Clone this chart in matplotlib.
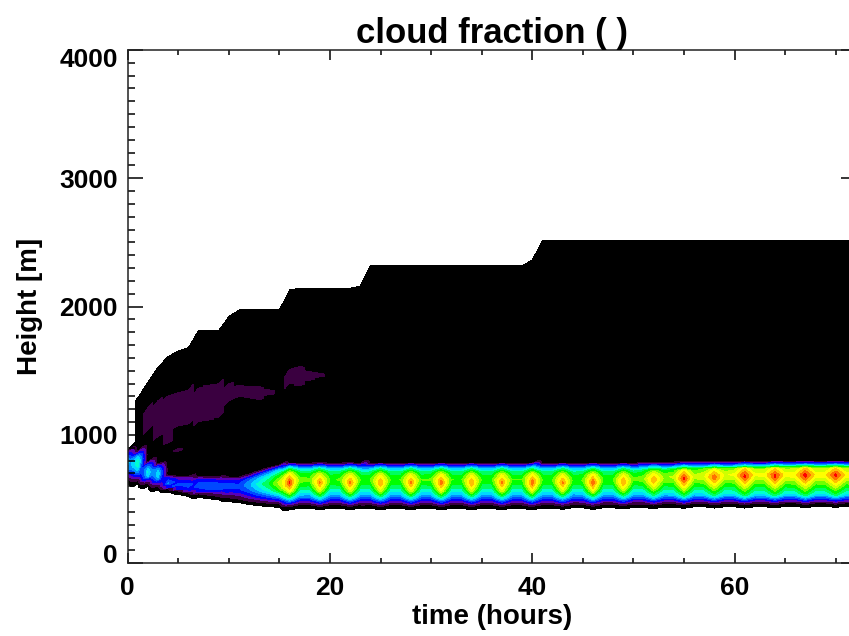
import numpy as np
import matplotlib
matplotlib.use('Agg')
import matplotlib.pyplot as plt
from matplotlib.colors import ListedColormap, BoundaryNorm
from matplotlib.transforms import ScaledTranslation

plt.rcParams['font.family'] = ['Liberation Sans', 'DejaVu Sans']
plt.rcParams['font.weight'] = 'bold'

# output times (hours)
hours = np.arange(73)

# height of the model domain top per output [m]
top_m = [1180, 1290, 1410, 1530, 1610, 1655, 1680, 1813, 1813, 1813, 1922, 1974,
         1974, 1974, 1974, 1974, 2130, 2143, 2143, 2143, 2143, 2143, 2143, 2161,
         2317, 2317, 2317, 2317, 2317, 2317, 2317, 2317, 2317, 2317, 2317, 2317,
         2317, 2317, 2317, 2317, 2364, 2512, 2512, 2512, 2512, 2512, 2512, 2512,
         2512, 2512, 2512, 2512, 2512, 2512, 2512, 2512, 2512, 2512, 2512, 2512,
         2512, 2512, 2512, 2512, 2512, 2512, 2512, 2512, 2512, 2512, 2512, 2512,
         2512]

# max cloud fraction in the stratocumulus layer per output
cf_peak = [0.40, 0.50, 0.45, 0.43, 0.33, 0.28, 0.29, 0.31, 0.31, 0.29, 0.28, 0.27,
           0.36, 0.47, 0.57, 0.72, 0.96, 0.66, 0.65, 0.89, 0.63, 0.64, 0.90, 0.63,
           0.63, 0.89, 0.62, 0.63, 0.90, 0.63, 0.64, 0.92, 0.63, 0.62, 0.89, 0.62,
           0.62, 0.90, 0.63, 0.63, 0.93, 0.63, 0.63, 0.90, 0.62, 0.64, 0.93, 0.63,
           0.63, 0.89, 0.64, 0.67, 0.88, 0.69, 0.71, 0.96, 0.72, 0.75, 0.93, 0.75,
           0.77, 0.97, 0.77, 0.78, 0.97, 0.78, 0.80, 0.98, 0.79, 0.80, 0.97, 0.79,
           0.80]

# height of that maximum [m]
z_peak = [780, 780, 710, 695, 620, 605, 600, 600, 600, 600, 600, 600,
          610, 615, 620, 625, 630, 650, 650, 630, 650, 650, 630, 650,
          650, 630, 650, 650, 630, 650, 650, 630, 650, 650, 630, 650,
          650, 630, 650, 650, 630, 650, 650, 630, 650, 650, 630, 650,
          650, 635, 655, 660, 650, 665, 670, 660, 675, 680, 670, 685,
          690, 680, 690, 690, 680, 690, 690, 685, 690, 690, 685, 690,
          690]

# cloud base (lowest non-zero) [m]
z_base = [625, 610, 590, 565, 545, 530, 515, 505, 495, 485, 475, 465,
          450, 440, 432, 428, 408, 422, 422, 408, 422, 422, 408, 422,
          422, 408, 422, 422, 408, 422, 422, 408, 422, 422, 408, 422,
          422, 408, 422, 422, 408, 422, 422, 412, 425, 425, 412, 425,
          425, 415, 428, 428, 418, 430, 430, 420, 432, 432, 422, 432,
          432, 422, 432, 432, 425, 435, 435, 425, 435, 435, 428, 435,
          435]

# cloud top [m]
z_ctop = [880, 880, 795, 780, 690, 680, 680, 680, 680, 680, 680, 680,
          700, 725, 750, 770, 785, 785, 785, 785, 785, 785, 785, 785,
          785, 785, 785, 785, 785, 785, 785, 785, 785, 785, 785, 785,
          785, 785, 785, 785, 785, 785, 785, 785, 785, 785, 785, 785,
          785, 785, 785, 790, 790, 790, 792, 792, 795, 795, 795, 797,
          797, 798, 798, 798, 800, 800, 800, 800, 800, 800, 800, 800,
          800]

# thin cloud patches above the layer: (hour, bottom m, top m)
patches = [(2, 1040, 1210), (3, 990, 1270), (4, 940, 1300), (5, 1070, 1330),
           (5, 872, 898), (6, 1090, 1350), (7, 1110, 1370), (8, 1120, 1385),
           (9, 1140, 1400), (10, 1270, 1405), (11, 1300, 1390), (12, 1290, 1375),
           (13, 1275, 1375), (14, 1310, 1345), (16, 1400, 1510), (17, 1380, 1530),
           (18, 1430, 1490), (19, 1450, 1480)]

background = 0.02
patch_cf = 0.10

# build the field on a stretched grid (levels follow the domain top)
nz = 161
sig = np.linspace(0, 1, nz)
T = np.tile(hours.astype(float), (nz, 1))
Z = sig[:, None] * np.array(top_m, dtype=float)[None, :]
F = np.zeros_like(Z)
for j in range(len(hours)):
    bg = 0.0 if j == 0 else background
    b, c, zp, p = z_base[j], z_ctop[j], z_peak[j], cf_peak[j]
    H = c - b
    d = 0.17 * H
    nodes = np.array([b, b + 40, b + 40 + 0.2 * (H - 40), zp - d, zp, zp + d,
                      c - 0.12 * H, c])
    vals = np.array([0.0, 0.07, 0.55 * p, 0.82 * p, p, 0.82 * p, 0.55 * p, bg])
    order = np.argsort(nodes, kind='stable')
    F[:, j] = np.interp(Z[:, j], nodes[order], vals[order], left=0.0, right=bg)
for h, lo, hi in patches:
    sel = (Z[:, h] >= lo) & (Z[:, h] <= hi)
    F[sel, h] = patch_cf

levels = [0.015] + list(np.arange(1, 17) * 0.0625)
colors = ['#000000', '#3a0040', '#5a00b8', '#0000ff', '#0048ff', '#0090ff',
          '#00d8ff', '#00ffd0', '#00ff60', '#00ff00', '#70ff00', '#d0ff00',
          '#ffff00', '#ffc000', '#ff7000', '#ff0000']
cmap = ListedColormap(colors)
norm = BoundaryNorm(levels, cmap.N)

fig = plt.figure(figsize=(8.49, 6.36), dpi=100)
ax = fig.add_axes([0.1504, 0.1143, 0.8578, 0.8071])
ax.contourf(T, Z, F, levels=levels, cmap=cmap, norm=norm)

ax.set_xlim(0, 72)
ax.set_ylim(0, 4000)
ax.set_xticks([0, 20, 40, 60])
ax.set_xticks(np.arange(0, 73, 5), minor=True)
ax.set_yticks([0, 1000, 2000, 3000, 4000])
ax.set_yticks(np.arange(0, 4001, 100), minor=True)
ax.tick_params(which='both', direction='in', top=True, right=True, width=1.1,
               labelsize=19)
ax.tick_params(axis='x', which='major', length=7.2, pad=9)
ax.tick_params(axis='x', which='minor', length=3.6)
ax.tick_params(axis='y', which='major', length=10.8, pad=7)
ax.tick_params(axis='y', which='minor', length=5)
for s in ax.spines.values():
    s.set_linewidth(1.1)
    s.set_color('#222222')

ax.set_title('cloud fraction ( )', fontsize=25, fontweight='bold', pad=4)
ax.set_xlabel('time (hours)', fontsize=20, fontweight='bold', labelpad=3)
ax.set_ylabel('Height [m]', fontsize=20, fontweight='bold', labelpad=12)

# end labels sit inside the axis range like in the original
ylabs = ax.get_yticklabels()
ylabs[0].set_transform(ylabs[0].get_transform() + ScaledTranslation(0, 10 / 100, fig.dpi_scale_trans))
ylabs[-1].set_transform(ylabs[-1].get_transform() + ScaledTranslation(0, -8 / 100, fig.dpi_scale_trans))

fig.savefig('out.png', dpi=100)
